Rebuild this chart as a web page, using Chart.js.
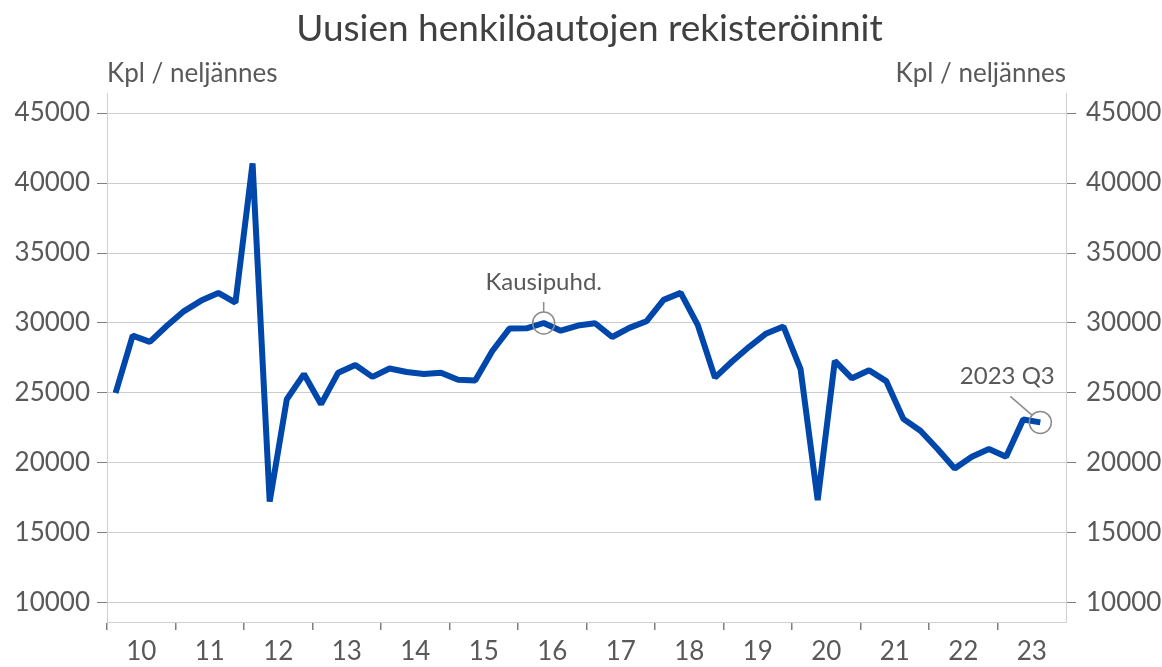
<!DOCTYPE html>
<html>
<head>
<meta charset="utf-8">
<script src="https://cdn.jsdelivr.net/npm/chart.js@4.4.1/dist/chart.umd.min.js"></script>
<style>
  html, body { margin: 0; padding: 0; background: #fff; }
  #wrap { width: 1162px; height: 667px; }
</style>
</head>
<body>
<div id="wrap"><canvas id="myChart"></canvas></div>
<script>
const years = ["10", "11", "12", "13", "14", "15", "16", "17", "18", "19", "20", "21", "22", "23"];
const quarters = ["Q1", "Q2", "Q3", "Q4"];
// rekisteröinnit / neljännes, kausitasoitettu, 2010 Q1 - 2023 Q3
const registrations = [
  25000, 29100, 28650, 29800,
  30850, 31600, 32150, 31450,
  41400, 17250, 24550, 26350,
  24200, 26450, 27000, 26150,
  26750, 26500, 26350, 26450,
  25950, 25900, 28000, 29600,
  29620, 30000, 29450, 29820,
  29980, 29000, 29650, 30120,
  31650, 32150, 29850, 26100,
  27250, 28300, 29250, 29750,
  26700, 17350, 27300, 26050,
  26620, 25850, 23150, 22300,
  21000, 19600, 20450, 21000,
  20450, 23100, 22900
];
const yTicks = [10000, 15000, 20000, 25000, 30000, 35000, 40000, 45000];
const notes = [
  { index: 25, text: "Kausipuhd." },
  { index: 54, text: "2023 Q3" }
];

const labels = [];
years.forEach((y) => quarters.forEach((q) => labels.push("20" + y + " " + q)));

const font = "Lato, 'Open Sans', sans-serif";
const textColor = "#595959";

function setTicks(scale) {
  scale.ticks = yTicks.map((v) => ({ value: v }));
}

const textPlugin = {
  id: "texts",
  afterDraw(chart) {
    const c = chart.ctx;
    const a = chart.chartArea;
    c.save();
    c.fillStyle = "#404040";
    c.font = "37px " + font;
    c.textAlign = "center";
    c.textBaseline = "alphabetic";
    c.fillText("Uusien henkilöautojen rekisteröinnit", (a.left + a.right) / 2 + 3, 41);

    c.fillStyle = textColor;
    c.font = "26px " + font;
    c.textAlign = "left";
    c.fillText("Kpl / neljännes", a.left, 82);
    c.textAlign = "right";
    c.fillText("Kpl / neljännes", a.right, 82);

    const xs = chart.scales.x;
    const ys = chart.scales.y;
    c.strokeStyle = "#8c8c8c";
    c.lineWidth = 1.5;
    c.font = "24px " + font;
    notes.forEach((n, k) => {
      const px = xs.getPixelForValue(n.index);
      const py = ys.getPixelForValue(registrations[n.index]);
      c.beginPath();
      c.arc(px, py, 11, 0, Math.PI * 2);
      c.stroke();
      c.beginPath();
      if (k === 0) {
        c.moveTo(px, py - 11);
        c.lineTo(px, py - 21);
        c.stroke();
        c.textAlign = "center";
        c.fillText(n.text, px, py - 33);
      } else {
        c.moveTo(px - 8, py - 7);
        c.lineTo(px - 30, py - 26);
        c.stroke();
        c.textAlign = "center";
        c.fillText(n.text, px - 33, py - 38);
      }
    });
    c.restore();
  }
};

const ctx = document.getElementById("myChart");
new Chart(ctx, {
  type: "line",
  data: {
    labels: labels,
    datasets: [
      {
        label: "Rekisteröinnit",
        data: registrations,
        borderColor: "#0047ab",
        borderWidth: 6,
        borderJoinStyle: "bevel",
        borderCapStyle: "butt",
        pointRadius: 0,
        tension: 0,
        clip: false
      }
    ]
  },
  options: {
    responsive: true,
    maintainAspectRatio: false,
    animation: false,
    layout: { padding: { top: 93, left: 0, right: 0, bottom: 0 } },
    plugins: {
      legend: { display: false },
      title: { display: false },
      tooltip: { enabled: false }
    },
    scales: {
      x: {
        type: "category",
        offset: true,
        afterFit(scale) { scale.height = 45; },
        grid: {
          offset: true,
          drawOnChartArea: false,
          tickLength: 8,
          lineWidth: 1.5,
          color: (c) => (c.index % 4 === 0 ? "#7f7f7f" : "rgba(0,0,0,0)")
        },
        border: { color: "#d0d0d0", width: 1 },
        ticks: {
          autoSkip: false,
          maxRotation: 0,
          minRotation: 0,
          padding: 6,
          labelOffset: 8.56,
          color: textColor,
          font: { family: font, size: 26 },
          callback: (v, i) => (i % 4 === 1 ? years[(i - 1) / 4] : "")
        }
      },
      y: {
        position: "left",
        min: 8640,
        max: 46430,
        afterBuildTicks: setTicks,
        afterFit(scale) { scale.width = 107; },
        grid: { color: "#cccccc", tickColor: "#7f7f7f", tickLength: 10, lineWidth: 1 },
        border: { color: "#d0d0d0", width: 1 },
        ticks: { padding: 7, color: textColor, font: { family: font, size: 26 }, callback: (v) => String(v) }
      },
      y2: {
        position: "right",
        min: 8640,
        max: 46430,
        afterBuildTicks: setTicks,
        afterFit(scale) { scale.width = 96; },
        grid: { drawOnChartArea: false, tickColor: "#7f7f7f", tickLength: 10 },
        border: { color: "#d0d0d0", width: 1 },
        ticks: { padding: 10, color: textColor, font: { family: font, size: 26 }, callback: (v) => String(v) }
      }
    }
  },
  plugins: [textPlugin]
});
</script>
</body>
</html>
